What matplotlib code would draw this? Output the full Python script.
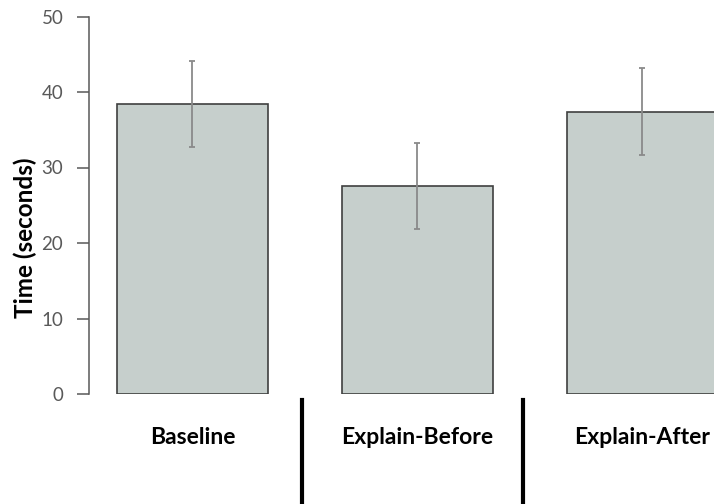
import numpy as np
import matplotlib
matplotlib.use("Agg")
import matplotlib.pyplot as plt
from matplotlib.transforms import blended_transform_factory

# data
categories = ["Baseline", "Explain-Before", "Explain-After"]
mean_time = [38.4, 27.5, 37.4]
err_time = [5.75, 5.7, 5.75]
separators = [0.487, 1.469]   # the black dividers under the axis

plt.rcParams['font.family'] = ['Lato', 'DejaVu Sans']

fig = plt.figure(figsize=(7.14, 5.04), dpi=100)
ax = fig.add_axes([89/714, 110/504, 1 - 89/714, 377.5/504])

x = np.arange(len(categories))
ax.bar(x, mean_time, width=0.675, color="#c6cfcc", edgecolor="#3f3f3f", linewidth=1.2, zorder=2)
ax.errorbar(x, mean_time, yerr=err_time, fmt="none", ecolor="#8a8a8a",
            elinewidth=1.3, capsize=2.5, capthick=1.3, zorder=3)

ax.set_xlim(-0.46, 2.318)
ax.set_ylim(0, 50)
ax.set_yticks(np.arange(0, 51, 10))

for s in ["top", "right", "bottom"]:
    ax.spines[s].set_visible(False)
ax.spines["left"].set_color("#595959")
ax.spines["left"].set_linewidth(1.1)

ax.tick_params(axis="y", direction="out", length=8.5, width=1.1, color="#595959",
               labelcolor="#595959", labelsize=13.5, pad=10)
ax.set_xticks(x)
ax.set_xticklabels(categories, fontweight="bold", fontsize=16.5)
ax.tick_params(axis="x", length=0, pad=24)

# y label sits a bit below the middle of the axis
fig.text(25/714, 1 - 238/504, "Time (seconds)", rotation=90, ha="center", va="center",
         fontweight="bold", fontsize=17.5)

trans = blended_transform_factory(ax.transData, ax.transAxes)
for s in separators:
    ax.plot([s, s], [-0.016, -0.35], color="black", lw=3, transform=trans, clip_on=False)

fig.savefig("out.png", dpi=100)
